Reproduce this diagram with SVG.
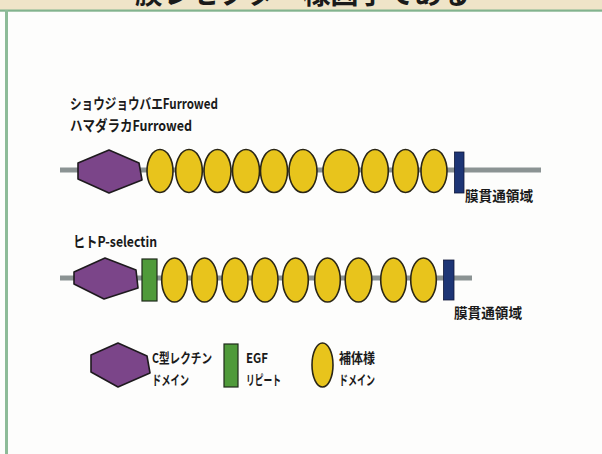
<svg xmlns="http://www.w3.org/2000/svg" width="602" height="454" viewBox="0 0 602 454">
<defs>
<style>
.bb{stroke:#8b9393;stroke-width:5;fill:none}
.hex{fill:#7b4589;stroke:#1e1a1e;stroke-width:1.6;stroke-linejoin:round}
.comp{fill:#e8c41c;stroke:#2a2616;stroke-width:1.6}
.egf{fill:#4f9a3a;stroke:#1e2a1a;stroke-width:1.2}
.tm{fill:#1d3575;stroke:#10183a;stroke-width:0.8}
.lbl{font-family:"Noto Sans CJK JP","Noto Sans",sans-serif;font-weight:700;fill:#1a1a1a}
</style>
</defs>
<rect x="0" y="0" width="602" height="454" fill="#fdfdfc"/>
<rect x="0" y="0" width="602" height="10" fill="#efe4c8"/>
<text x="135" y="4" class="lbl" font-size="28" textLength="335" lengthAdjust="spacingAndGlyphs">膜レセプター様因子である</text>
<rect x="0" y="9.5" width="602" height="2.2" fill="#82b38e"/>
<rect x="5" y="10" width="3" height="444" fill="#8dbb98"/>

<g id="connectors">
<line class="bb" x1="60" y1="170" x2="541" y2="170"/>
<line class="bb" x1="60" y1="278" x2="472" y2="278"/>
</g>

<g id="furrowed">
<text class="lbl" x="70" y="109" font-size="14.5" textLength="148" lengthAdjust="spacingAndGlyphs">ショウジョウバエFurrowed</text>
<text class="lbl" x="70" y="131" font-size="14.5" textLength="122" lengthAdjust="spacingAndGlyphs">ハマダラカFurrowed</text>
<polygon class="hex" points="78,163 109,150 139,163 142,180 109,193 78,179"/>
<ellipse class="comp" cx="160" cy="171" rx="13" ry="21.5"/>
<ellipse class="comp" cx="189" cy="171" rx="13.3" ry="21.5"/>
<ellipse class="comp" cx="217.5" cy="171" rx="13.5" ry="21.5"/>
<ellipse class="comp" cx="246" cy="171" rx="13.5" ry="21.5"/>
<ellipse class="comp" cx="274" cy="171" rx="13.5" ry="21.5"/>
<ellipse class="comp" cx="303" cy="171" rx="14" ry="21.5"/>
<ellipse class="comp" cx="341" cy="171" rx="18" ry="21.5"/>
<ellipse class="comp" cx="375" cy="171" rx="13.3" ry="21.5"/>
<ellipse class="comp" cx="405.5" cy="171" rx="12.8" ry="21.5"/>
<ellipse class="comp" cx="434" cy="171" rx="13" ry="21.5"/>
<rect class="tm" x="454.5" y="152" width="9.5" height="41"/>
<text class="lbl" x="465" y="201" font-size="14" textLength="68" lengthAdjust="spacingAndGlyphs">膜貫通領域</text>
</g>

<g id="p-selectin">
<text class="lbl" x="73" y="247" font-size="14.5" textLength="84" lengthAdjust="spacingAndGlyphs">ヒトP-selectin</text>
<polygon class="hex" points="74,272 105,258 136,270 138,288 104,299 74,284"/>
<rect class="egf" x="142" y="259" width="15" height="42"/>
<ellipse class="comp" cx="174.5" cy="280" rx="12.8" ry="22"/>
<ellipse class="comp" cx="204.5" cy="280" rx="12.8" ry="22"/>
<ellipse class="comp" cx="235" cy="280" rx="13" ry="22"/>
<ellipse class="comp" cx="265" cy="280" rx="13" ry="22"/>
<ellipse class="comp" cx="295.5" cy="280" rx="12.8" ry="22"/>
<ellipse class="comp" cx="327.5" cy="280" rx="12.8" ry="22"/>
<ellipse class="comp" cx="358.5" cy="280" rx="13.3" ry="22"/>
<ellipse class="comp" cx="393.5" cy="280" rx="12.8" ry="22"/>
<ellipse class="comp" cx="423.5" cy="280" rx="12.8" ry="22"/>
<rect class="tm" x="443.5" y="260" width="10.5" height="40"/>
<text class="lbl" x="454" y="318" font-size="14" textLength="68" lengthAdjust="spacingAndGlyphs">膜貫通領域</text>
</g>

<g id="legend-lectin">
<polygon class="hex" points="91,355 118,343 147,356 150,373 118,387 91,372"/>
<text class="lbl" x="152" y="363" font-size="13.5" textLength="60" lengthAdjust="spacingAndGlyphs">C型レクチン</text>
<text class="lbl" x="152" y="385" font-size="13.5" textLength="37" lengthAdjust="spacingAndGlyphs">ドメイン</text>
</g>
<g id="legend-egf">
<rect class="egf" x="224" y="344" width="14" height="43"/>
<text class="lbl" x="246" y="363" font-size="13.5" textLength="22" lengthAdjust="spacingAndGlyphs">EGF</text>
<text class="lbl" x="246" y="385" font-size="13.5" textLength="35" lengthAdjust="spacingAndGlyphs">リピート</text>
</g>
<g id="legend-complement">
<ellipse class="comp" cx="322.5" cy="365" rx="10.5" ry="22"/>
<text class="lbl" x="339" y="363" font-size="13.5" textLength="36" lengthAdjust="spacingAndGlyphs">補体様</text>
<text class="lbl" x="339" y="385" font-size="13.5" textLength="36" lengthAdjust="spacingAndGlyphs">ドメイン</text>
</g>
</svg>
